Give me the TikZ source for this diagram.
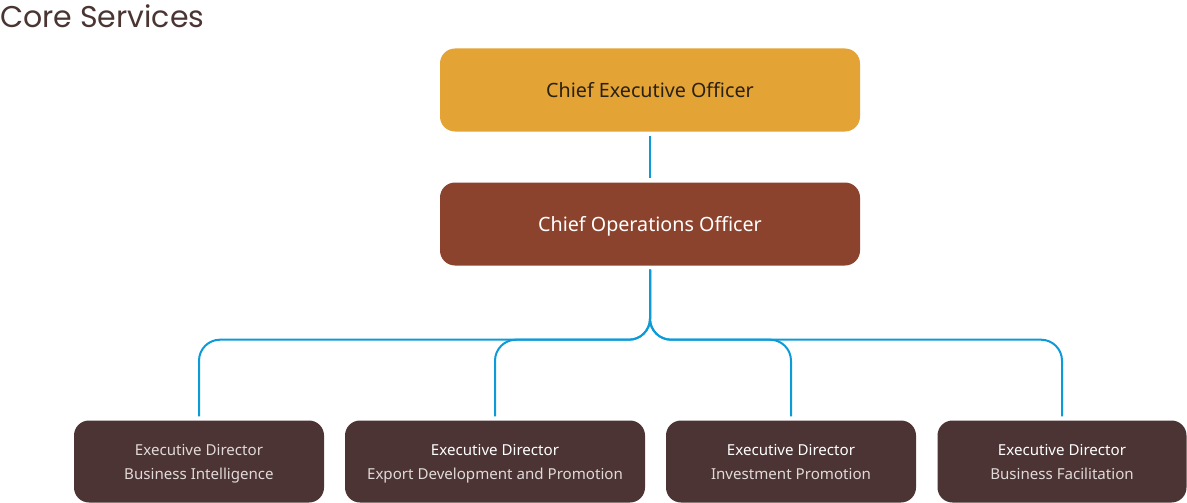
\documentclass[tikz,border=0pt]{standalone}
\usepackage{fontspec}
\setmainfont{Noto Sans}
\newfontfamily\titlefont{Poppins}
\usetikzlibrary{positioning, calc}
\definecolor{ceofill}{HTML}{E4A335}
\definecolor{ceotext}{HTML}{2A2115}
\definecolor{coofill}{HTML}{8B432D}
\definecolor{edfill}{HTML}{4B3433}
\definecolor{edtext}{HTML}{E2DAD8}
\definecolor{linkblue}{HTML}{0C9BD8}
\definecolor{titlecol}{HTML}{4A3533}
\tikzset{x = 1pt, y = -1pt,
         node distance = 134pt, on grid,
         box/.style = {rounded corners = 15pt, align = center,
                       minimum height = 83pt, inner sep = 0pt,
                       text depth = 0pt},
         topbox/.style = {box, minimum width = 420pt,
                          font = \fontsize{19.7}{23}\selectfont},
         edbox/.style = {box, fill = edfill, text = edtext,
                         minimum width = 250pt, minimum height = 82pt,
                         font = \fontsize{15.1}{24}\selectfont},
         link/.style = {draw = linkblue, line width = 2pt,
                        rounded corners = 21pt,
                        shorten <= 4pt, shorten >= 4pt}}

\begin{document}
\begin{tikzpicture}
        \useasboundingbox (0,0) rectangle (1187,503);

        \node[anchor = base west, inner sep = 0pt, text = titlecol,
              font = \titlefont\fontsize{30}{34}\selectfont]
                                (title) at (0,28)      {Core Services};

        \node[topbox, fill = ceofill, text = ceotext]
                                (ceo)   at (650,90)    {Chief Executive Officer};
        \node[topbox, fill = coofill, text = white]
                                (coo)   [below = of ceo] {Chief Operations Officer};

        \node[edbox]                        (ed1) at (199,461.5)
              {Executive Director\\Business Intelligence};
        \node[edbox, minimum width = 300pt] (ed2) [right = 296pt of ed1]
              {\textcolor{white}{Executive Director}\\Export Development and Promotion};
        \node[edbox]                        (ed3) [right = 296pt of ed2]
              {\textcolor{white}{Executive Director}\\Investment Promotion};
        \node[edbox, minimum width = 249pt] (ed4) [right = 271pt of ed3]
              {\textcolor{white}{Executive Director}\\Business Facilitation};

        \coordinate (hub) at ($(coo.south) + (0,74)$);

        \draw[link] (ceo) -- (coo);
        \foreach \ed in {ed1, ed2, ed3, ed4}
          \draw[link] (coo.south) -- (hub) -| (\ed.north);
      \end{tikzpicture}
\end{document}
